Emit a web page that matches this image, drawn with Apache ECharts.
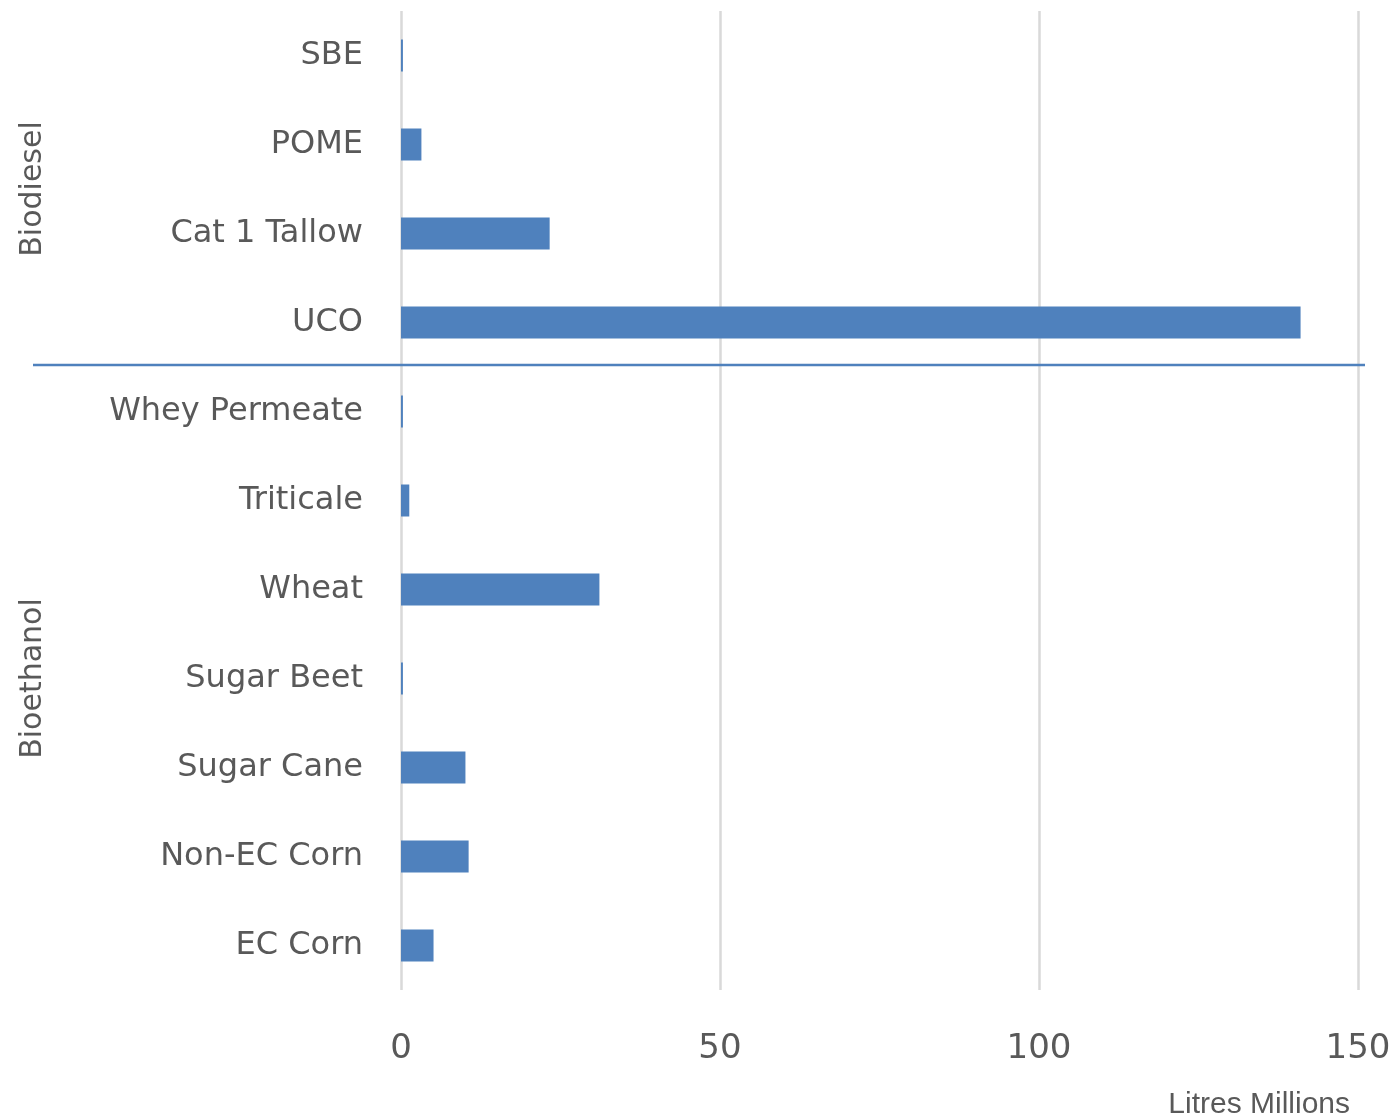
<!DOCTYPE html>
<html>
<head>
<meta charset="utf-8">
<script src="https://cdn.jsdelivr.net/npm/echarts@6/dist/echarts.min.js"></script>
<style>
html,body{margin:0;padding:0;background:#fff;}
#c{width:1400px;height:1120px;}
</style>
</head>
<body>
<div id="c"></div>
<script>
const categories = ['SBE','POME','Cat 1 Tallow','UCO','Whey Permeate','Triticale','Wheat','Sugar Beet','Sugar Cane','Non-EC Corn','EC Corn'];
const values = [0.3, 3.2, 23.3, 141.0, 0.3, 1.3, 31.1, 0.3, 10.1, 10.6, 5.1];
const groups = [
  {name:'Biodiesel', from:0, to:3},
  {name:'Bioethanol', from:4, to:10}
];
const xTicks = [0, 50, 100, 150];
const axisTitle = 'Litres Millions';

const FONT = 'DejaVu Sans';
const chart = echarts.init(document.getElementById('c'), null, {renderer:'canvas'});
const option = {
  backgroundColor:'#fff',
  animation:false,
  grid:{left:401, right:42, top:11, bottom:130, containLabel:false},
  xAxis:{
    type:'value', min:xTicks[0], max:xTicks[xTicks.length-1], interval:xTicks[1]-xTicks[0],
    axisLine:{show:false}, axisTick:{show:false},
    splitLine:{show:true, lineStyle:{color:'#d9d9d9', width:2.5}},
    axisLabel:{color:'#595959', fontSize:34, fontFamily:FONT, margin:42}
  },
  yAxis:{
    type:'category', data:categories, inverse:true,
    axisLine:{show:false}, axisTick:{show:false},
    axisLabel:{color:'#595959', fontSize:32, fontFamily:FONT, margin:38}
  },
  series:[{
    type:'bar', data:values, barWidth:32,
    itemStyle:{color:'#4f81bd'}
  }]
};
chart.setOption(option);

function drawExtras(){
  const g = [];
  const yOf = i => chart.convertToPixel({yAxisIndex:0}, categories[i]);
  const band = yOf(1) - yOf(0);
  groups.forEach((gr, k) => {
    const y0 = yOf(gr.from), y1 = yOf(gr.to);
    g.push({
      type:'text', x:33, y:(y0+y1)/2, rotation:Math.PI/2,
      style:{text:gr.name, fill:'#595959', font:'30px "'+FONT+'"', align:'center', verticalAlign:'middle'}
    });
    if (k < groups.length-1){
      const ys = y1 + band/2 - 2;
      g.push({type:'line', shape:{x1:33, y1:ys, x2:1365, y2:ys}, style:{stroke:'#4f81bd', lineWidth:2.5}});
    }
  });
  g.push({
    type:'text', x:1350, y:1105,
    style:{text:axisTitle, fill:'#595959', font:'30px "Liberation Sans"', align:'right', verticalAlign:'middle'}
  });
  chart.setOption({graphic:g});
}
drawExtras();
</script>
</body>
</html>
